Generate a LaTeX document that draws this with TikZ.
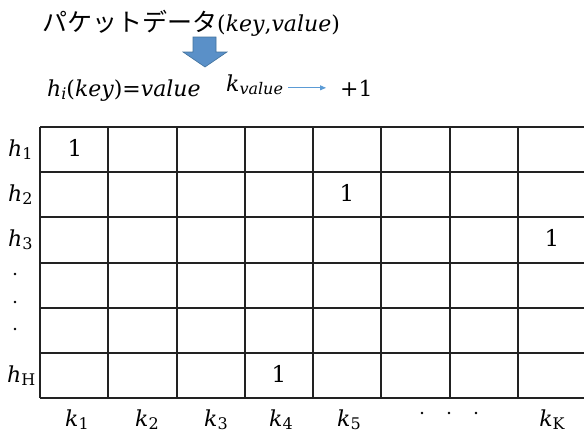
\documentclass[tikz,border=0pt]{standalone}
\usepackage{fontspec}
\newfontfamily\jpfont{Noto Sans CJK JP}
\newfontfamily\dvs{DejaVu Serif}
\usetikzlibrary{arrows.meta,calc}
\newcommand\mi[1]{{\itshape #1}}
\newcommand\subs[1]{\raisebox{-0.14em}{\fontsize{16}{18}\selectfont #1}}
\definecolor{arrowblue}{HTML}{5A90C8}
\definecolor{arrowedge}{HTML}{41719C}
\definecolor{thinblue}{HTML}{5B9BD5}
\definecolor{gridc}{HTML}{222222}
\tikzset{
  txt/.style={inner sep=0pt, anchor=base, font=\dvs\fontsize{22}{26}\selectfont},
  cellone/.style={inner sep=0pt, anchor=base, font=\dvs\fontsize{23}{27}\selectfont},
  gridline/.style={draw=gridc, line width=1.6pt},
  dotmark/.style={circle, fill=black, inner sep=0pt, minimum size=2.8pt},
  thinarrow/.style={draw=thinblue, line width=0.8pt, -{Triangle[length=6pt,width=5pt]}}
}
\begin{document}
\begin{tikzpicture}[x=1pt,y=-1pt]
\useasboundingbox (0,0) rectangle (584,432);
\clip (0,0) rectangle (584,432);
% title
\node[txt, anchor=base west] (title) at (42,31) {{\jpfont\fontsize{25}{28}\selectfont パケットデータ}(\mi{key},\mi{value})};
% big down arrow
\draw[fill=arrowblue, draw=arrowedge, line width=0.6pt]
  (193,37) -- (216,37) -- (216,52) -- (227,52) -- (205,67) -- (183,52) -- (193,52) -- cycle;
% second line
\node[txt, anchor=base west] (hash) at (47,96) {\mi{h}\subs{\mi{i}}(\mi{key})=\mi{value}};
\node[txt, anchor=base west] (kv) at (226,91) {\mi{k}\subs{\mi{value}}};
\node[txt, anchor=base west] (plus) at (340,96) {+1};
\draw[thinarrow, shorten <=5pt, shorten >=14pt] (kv.east |- plus.center) -- (plus.west |- plus.center);
% grid
\foreach \x in {40,108,177,245,313,381,450,518} {
  \draw[gridline] (\x,127) -- (\x,398);
}
\foreach \y in {127,172,217,263,308,353,398} {
  \draw[gridline] (40,\y) -- (600,\y);
}
% row labels
\node[txt, anchor=base west] (h1) at (8,156.5) {\mi{h}\subs{1}};
\node[txt, anchor=base west] (h2) at (8,201.7) {\mi{h}\subs{2}};
\node[txt, anchor=base west] (h3) at (8,246.9) {\mi{h}\subs{3}};
\node[dotmark] (d1) at (15,274) {};
\node[dotmark] (d2) at (15,302) {};
\node[dotmark] (d3) at (15,329) {};
\node[txt, anchor=base west] (hH) at (7,382.6) {\mi{h}\subs{H}};
% column labels
\node[txt] (k1) at (77,426) {\mi{k}\subs{1}};
\node[txt] (k2) at (147,426) {\mi{k}\subs{2}};
\node[txt] (k3) at (216,426) {\mi{k}\subs{3}};
\node[txt] (k4) at (281,426) {\mi{k}\subs{4}};
\node[txt] (k5) at (349,426) {\mi{k}\subs{5}};
\node[dotmark] (cd1) at (422,413) {};
\node[dotmark] (cd2) at (449,413) {};
\node[dotmark] (cd3) at (476,413) {};
\node[txt] (kK) at (552,426) {\mi{k}\subs{K}};
% cell entries
\node[cellone] (c11) at (75,156.5) {1};
\node[cellone] (c25) at (347,201.7) {1};
\node[cellone] (c38) at (552,246.9) {1};
\node[cellone] (c64) at (279,382.6) {1};
\end{tikzpicture}
\end{document}
